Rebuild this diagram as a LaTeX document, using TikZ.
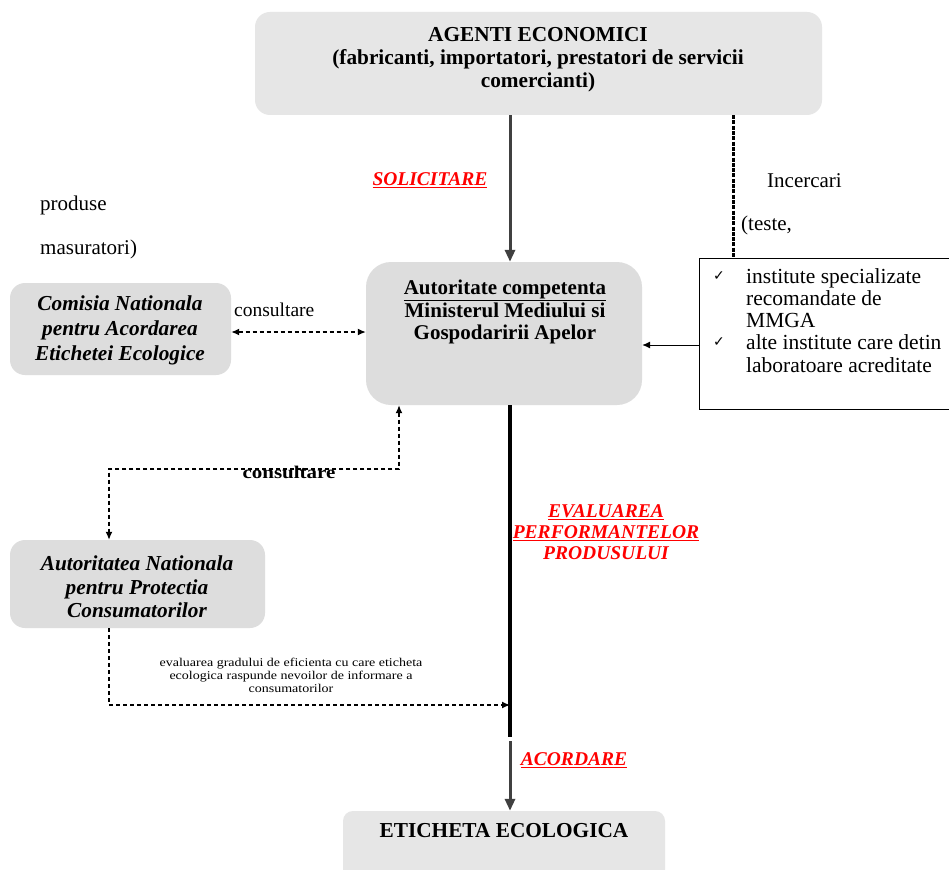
\documentclass[tikz,border=0pt]{standalone}
\usepackage{fontspec}
\usepackage{graphicx}
\setmainfont{Liberation Serif}
\newfontfamily\symfont{DejaVu Sans}
\usetikzlibrary{arrows.meta}
\definecolor{boxgray}{HTML}{DDDDDD}
\definecolor{boxlight}{HTML}{E6E6E6}
\definecolor{arrgray}{HTML}{404040}
\begin{document}
\begin{tikzpicture}[x=1pt,y=-1pt,
  gbox/.style={fill=boxgray,draw=none,rounded corners=15pt,inner sep=0pt},
  lbox/.style={fill=boxlight,draw=none,rounded corners=15pt,inner sep=0pt},
  bigtxt/.style={align=center,font=\fontsize{21.3}{23}\selectfont\bfseries,inner sep=0pt},
  itxt/.style={align=center,font=\fontsize{21.3}{25}\selectfont\bfseries\itshape,inner sep=0pt},
  plain/.style={anchor=west,font=\fontsize{21}{24}\selectfont,inner sep=0pt},
  redlab/.style={text=red,align=center,font=\fontsize{19.5}{21}\selectfont\bfseries\itshape,inner sep=0pt},
  graytip/.style={-{Triangle[length=12pt,width=10pt]},draw=arrgray,line width=3pt},
  dtip/.style={{Latex[length=8pt,width=7pt]}-{Latex[length=8pt,width=7pt]},dash pattern=on 4pt off 3pt,line width=1.3pt},
  stip/.style={-{Latex[length=8pt,width=7pt]},dash pattern=on 4pt off 3pt,line width=1.3pt}]
\useasboundingbox (0,0) rectangle (949,869);
\clip (0,0) rectangle (949,869);
\fill[white] (0,0) rectangle (949,869);

% helper coordinates
\coordinate (ax) at (510,0);
\coordinate (dx) at (733,0);
\coordinate (ry) at (0,345);
\coordinate (cy) at (0,332);
\coordinate (kx) at (399,0);
\coordinate (lx) at (109,0);
\coordinate (k1) at (399,469);
\coordinate (k2) at (109,469);
\coordinate (ey) at (0,705);
\coordinate (thickend) at (510,737);
\coordinate (graystart) at (510,741);

% boxes
\node[lbox,minimum width=567pt,minimum height=103pt] (top) at (538.5,63.5) {};
\node[bigtxt] (toptxt) at (538,60) {AGENTI ECONOMICI\\(fabricanti, importatori, prestatori de servicii\\comercianti)};

\node[gbox,rounded corners=25pt,minimum width=276pt,minimum height=143pt] (ctr) at (504,333.5) {};
\node[bigtxt,font=\fontsize{21}{22.8}\selectfont\bfseries] (ctrtxt) at (505,312) {\underline{Autoritate competenta}\\Ministerul Mediului si\\Gospodaririi Apelor};

\node[gbox,minimum width=221pt,minimum height=92pt] (com) at (120.5,329) {};
\node[itxt] (comtxt) at (120,330) {Comisia Nationala\\pentru Acordarea\\Etichetei Ecologice};

\node[gbox,minimum width=255pt,minimum height=88pt] (aut) at (137.5,584) {};
\node[itxt,font=\fontsize{21.3}{23.5}\selectfont\bfseries\itshape] (auttxt) at (137,587) {Autoritatea Nationala\\pentru Protectia\\Consumatorilor};

\node[lbox,rounded corners=10pt,minimum width=322pt,minimum height=70pt] (bot) at (504,846) {};
\node[bigtxt] (bottxt) at (504,831) {ETICHETA ECOLOGICA};

\node[draw=black,fill=white,line width=0.8pt,minimum width=270pt,minimum height=151pt,inner sep=0pt] (rbox) at (834,334) {};

% right box content
\node[font=\symfont\fontsize{14}{14}\selectfont,inner sep=0pt] (ck1) at (719,276) {✓};
\node[font=\symfont\fontsize{14}{14}\selectfont,inner sep=0pt] (ck2) at (719,342) {✓};
\node[anchor=north west,align=left,font=\fontsize{21.5}{22}\selectfont,inner sep=0pt] (rtxt1) at (746,268) {institute specializate\\recomandate de\\MMGA};
\node[anchor=north west,align=left,font=\fontsize{21.5}{23.5}\selectfont,inner sep=0pt] (rtxt2) at (746,334) {alte institute care detin\\laboratoare acreditate};

% loose texts
\node[plain] (produse) at (40,205) {produse};
\node[plain] (masur) at (40,249) {masuratori)};
\node[plain] (incerc) at (767,181) {Incercari};
\node[plain] (teste) at (741,225) {(teste,};
\node[plain,font=\fontsize{19.5}{22}\selectfont] (cons1) at (234,310) {consultare};

% red labels
\node[redlab] (solic) at (430,180) {\underline{SOLICITARE}};
\node[redlab] (evalu) at (606,532) {\underline{EVALUAREA}\\\underline{PERFORMANTELOR}\\PRODUSULUI};
\node[redlab] (acord) at (574,760) {\underline{ACORDARE}};

% connectors
\draw[graytip] (top.south -| ax) -- (ctr.north -| ax);
\draw[line width=3pt,dash pattern=on 4pt off 1.3pt] (top.south -| dx) -- (rbox.north -| dx);
\draw[-{Latex[length=8pt,width=7pt]},line width=1pt] (rbox.west |- ry) -- (ctr.east |- ry);
\draw[dtip] (com.east |- cy) -- (ctr.west |- cy);
\draw[dtip] (ctr.south -| kx) -- (k1) -- (k2) -- (aut.north -| lx);
\node[font=\fontsize{21}{22}\selectfont\bfseries,inner sep=0pt] (cons2) at (289,472) {\scalebox{1}[0.85]{consultare}};
\draw[line width=4.5pt] (ctr.south -| ax) -- (thickend);
\draw[stip] (aut.south -| lx) |- (thickend |- ey);
\node[inner sep=0pt,font=\fontsize{14}{15.5}\selectfont] (evtxt) at (291,677) {\scalebox{1}[0.85]{\begin{tabular}{@{}c@{}}evaluarea gradului de eficienta cu care eticheta\\ecologica raspunde nevoilor de informare a\\consumatorilor\end{tabular}}};
\draw[graytip] (graystart) -- (bot.north -| ax);
\end{tikzpicture}
\end{document}
